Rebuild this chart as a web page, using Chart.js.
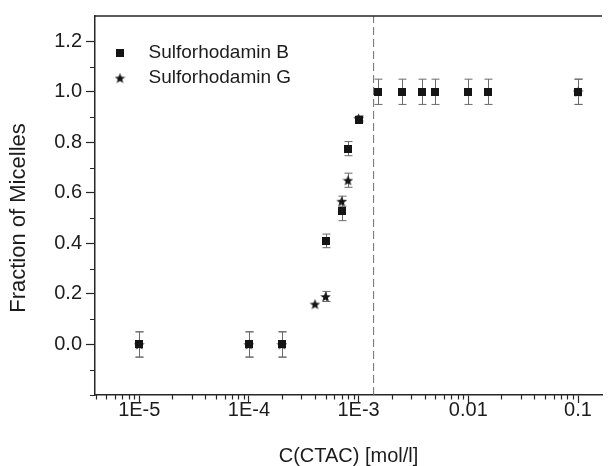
<!DOCTYPE html>
<html><head><meta charset="utf-8">
<script src="https://cdn.jsdelivr.net/npm/chart.js@4.4.1/dist/chart.umd.min.js"></script>
<style>html,body{margin:0;padding:0;background:#fff;overflow:hidden}</style>
</head><body>
<canvas id="c" width="608" height="466"></canvas>
<script>
// ---- data ----
const concB = [1e-5, 1e-4, 2e-4, 5e-4, 7e-4, 8e-4, 1e-3, 1.5e-3, 2.5e-3, 3.75e-3, 5e-3, 0.01, 0.015, 0.1];
const fracB = [0, 0, 0, 0.41, 0.53, 0.775, 0.89, 1, 1, 1, 1, 1, 1, 1];
const errB  = [0.05, 0.05, 0.05, 0.027, 0.04, 0.028, 0.01, 0.05, 0.05, 0.05, 0.05, 0.05, 0.05, 0.05];
const concG = [1e-5, 1e-4, 2e-4, 4e-4, 5e-4, 7e-4, 8e-4, 1e-3, 0.1];
const fracG = [0, 0, 0, 0.16, 0.19, 0.567, 0.65, 0.895, 1];
const errG  = [0.05, 0.05, 0.05, 0, 0.02, 0.02, 0.028, 0.01, 0.05];
const cmcConc = [1.37e-3, 1.37e-3];
const cmcFrac = [-0.2, 1.3];
const seriesNames = ['Sulforhodamin B', 'Sulforhodamin G'];
const xTickValues = [1e-5, 1e-4, 1e-3, 0.01, 0.1];
const xTickLabels = ['1E-5', '1E-4', '1E-3', '0.01', '0.1'];
const yTickValues = [0, 0.2, 0.4, 0.6, 0.8, 1.0, 1.2];
const yTickLabels = ['0.0', '0.2', '0.4', '0.6', '0.8', '1.0', '1.2'];
const yMinorValues = [-0.2, -0.1, 0.1, 0.3, 0.5, 0.7, 0.9, 1.1];
const xTitle = 'C(CTAC) [mol/l]';
const yTitle = 'Fraction of Micelles';

// ---- styles ----
const FONT = '"Liberation Sans", Arial, Helvetica, sans-serif';
const INK = '#151515';
const TEXT = '#1c1c1c';
const AXIS = '#262626';

function squareImg(s) {
  const c = document.createElement('canvas'); c.width = c.height = s;
  const g = c.getContext('2d'); g.fillStyle = INK; g.fillRect(0, 0, s, s); return c;
}
function starImg(s) {
  const c = document.createElement('canvas'); c.width = c.height = s;
  const g = c.getContext('2d'); g.fillStyle = INK; g.beginPath();
  for (let i = 0; i < 10; i++) {
    const r = i % 2 ? s * 0.22 : s * 0.5;
    const a = -Math.PI / 2 + i * Math.PI / 5;
    g.lineTo(s / 2 + r * Math.cos(a), s / 2 + 0.6 + r * Math.sin(a));
  }
  g.closePath(); g.fill(); return c;
}
const sqImg = squareImg(8);
const stImg = starImg(11);

const decor = {
  id: 'decor',
  beforeDatasetsDraw(chart) {
    const {ctx, scales: {x, y}} = chart;
    ctx.save();
    ctx.strokeStyle = '#6a6a6a'; ctx.lineWidth = 1;
    chart.data.datasets.forEach((ds) => {
      if (!ds.errors) return;
      ds.data.forEach((p, i) => {
        const e = ds.errors[i]; if (!e) return;
        const px = Math.round(x.getPixelForValue(p.x)) + 0.5;
        const yt = y.getPixelForValue(p.y + e), yb = y.getPixelForValue(p.y - e);
        ctx.beginPath();
        ctx.moveTo(px, yt); ctx.lineTo(px, yb);
        ctx.moveTo(px - 4, yt); ctx.lineTo(px + 4, yt);
        ctx.moveTo(px - 4, yb); ctx.lineTo(px + 4, yb);
        ctx.stroke();
      });
    });
    ctx.restore();
  },
  afterDraw(chart) {
    const {ctx, chartArea: ca, scales: {x, y}} = chart;
    ctx.save();
    ctx.strokeStyle = AXIS; ctx.lineWidth = 1.2;
    ctx.beginPath();
    for (let e = -7; e <= 0; e++) {
      for (let m = 2; m <= 9; m++) {
        const v = m * Math.pow(10, e);
        if (v < x.min || v > x.max) continue;
        const px = Math.round(x.getPixelForValue(v)) + 0.5;
        ctx.moveTo(px, ca.bottom); ctx.lineTo(px, ca.bottom + 4.5);
      }
    }
    yMinorValues.forEach(v => {
      const py = Math.round(y.getPixelForValue(v)) + 0.5;
      ctx.moveTo(ca.left - 5, py); ctx.lineTo(ca.left, py);
    });
    ctx.stroke();
    ctx.lineWidth = 1.5;
    ctx.beginPath(); ctx.moveTo(ca.left, ca.top); ctx.lineTo(ca.right, ca.top); ctx.stroke();
    ctx.fillStyle = TEXT;
    ctx.font = '22px ' + FONT;
    ctx.textAlign = 'center'; ctx.textBaseline = 'middle';
    ctx.translate(19, 218); ctx.rotate(-Math.PI / 2);
    ctx.fillText(yTitle, 0, 0);
    ctx.restore();
  }
};

new Chart(document.getElementById('c'), {
  type: 'scatter',
  data: {
    datasets: [
      { label: seriesNames[0], data: concB.map((v, i) => ({x: v, y: fracB[i]})), errors: errB,
        pointStyle: sqImg, pointRadius: 5, backgroundColor: INK, borderColor: INK, order: 1 },
      { label: seriesNames[1], data: concG.map((v, i) => ({x: v, y: fracG[i]})), errors: errG,
        pointStyle: stImg, pointRadius: 5, backgroundColor: INK, borderColor: INK, order: 0 },
      { label: 'CMC', data: cmcConc.map((v, i) => ({x: v, y: cmcFrac[i]})), showLine: true,
        borderColor: '#6e6e6e', borderWidth: 1, borderDash: [8, 4], pointRadius: 0, order: 2 }
    ]
  },
  options: {
    responsive: false, animation: false, devicePixelRatio: 1,
    layout: { padding: { top: 13.5, right: 0, bottom: 0, left: 0 } },
    plugins: {
      tooltip: { enabled: false },
      legend: {
        position: 'chartArea', align: 'start',
        title: { display: true, text: ' ', font: { size: 20, lineHeight: 1 }, padding: { top: 17.5, bottom: 0 } },
        labels: {
          usePointStyle: true, pointStyleWidth: 38, padding: 6, color: TEXT,
          font: { family: FONT, size: 19 },
          filter: (it) => it.datasetIndex < 2,
          sort: (a, b) => a.datasetIndex - b.datasetIndex
        }
      }
    },
    scales: {
      x: {
        type: 'logarithmic', position: 'bottom', min: 3.95e-6, max: 0.1655,
        afterBuildTicks: (s) => { s.ticks = xTickValues.map(v => ({ value: v })); },
        afterFit: (s) => { s.height = 71; },
        grid: { drawOnChartArea: false, drawTicks: true, tickLength: 8, tickColor: AXIS, tickWidth: 1.2 },
        border: { color: AXIS, width: 1.5 },
        ticks: { autoSkip: false, maxRotation: 0, padding: -3, color: TEXT,
          font: { family: FONT, size: 20, lineHeight: 1 },
          callback: (v, i) => xTickLabels[i] },
        title: { display: true, text: xTitle, color: TEXT,
          font: { family: FONT, size: 20, lineHeight: 1 }, padding: { top: 0, bottom: 0 } }
      },
      y: {
        type: 'linear', position: 'left', min: -0.2, max: 1.3,
        afterBuildTicks: (s) => { s.ticks = yTickValues.map(v => ({ value: v })); },
        afterFit: (s) => { s.width = 95; },
        grid: { drawOnChartArea: false, drawTicks: true, tickLength: 9, tickColor: AXIS, tickWidth: 1.2 },
        border: { color: AXIS, width: 1.5 },
        ticks: { autoSkip: false, padding: 4, color: TEXT,
          font: { family: FONT, size: 20 },
          callback: (v, i) => yTickLabels[i] }
      }
    }
  },
  plugins: [decor]
});
</script>
</body></html>
